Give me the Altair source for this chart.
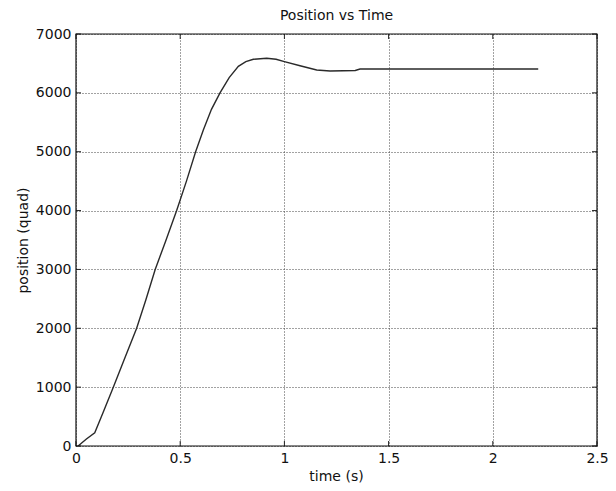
import altair as alt
import pandas as pd

# Data
time_s = [0.01, 0.05, 0.09, 0.13, 0.179, 0.23, 0.291, 0.335, 0.38, 0.43, 0.483,
          0.53, 0.574, 0.611, 0.65, 0.691, 0.735, 0.779, 0.815, 0.851, 0.915,
          0.96, 1.0, 1.075, 1.155, 1.219, 1.283, 1.34, 1.363, 1.6, 1.8, 2.0, 2.218]
position = [0, 120, 225, 570, 1000, 1455, 2000, 2480, 3000, 3480, 4000,
            4500, 5000, 5370, 5720, 6000, 6260, 6450, 6530, 6570, 6587,
            6570, 6530, 6460, 6388, 6371, 6375, 6380, 6405, 6405, 6405, 6405, 6405]

x_ticks = [0, 0.5, 1, 1.5, 2, 2.5]
y_ticks = [0, 1000, 2000, 3000, 4000, 5000, 6000, 7000]

W, H = 521, 412
FONT = "DejaVu Sans"
FS = 14

df = pd.DataFrame({"t": time_s, "p": position})
dfx = pd.DataFrame({"t": x_ticks})
dfy = pd.DataFrame({"p": y_ticks})

xscale = alt.Scale(domain=[0, 2.5], nice=False, zero=False)
yscale = alt.Scale(domain=[0, 7000], nice=False, zero=False)

xaxis = alt.Axis(values=x_ticks, title="time (s)", grid=True,
                 gridDash=[1, 2], gridColor="#444", gridWidth=1,
                 tickSize=0, domain=False, labelPadding=5, format="~g",
                 labelFlush=False,
                 titleX=260, titleY=30, titleBaseline="middle",
                 titleAlign="center")
yaxis = alt.Axis(values=y_ticks, title="position (quad)", grid=True,
                 gridDash=[1, 2], gridColor="#444", gridWidth=1,
                 tickSize=0, domain=False, labelPadding=5, format="d",
                 labelFlush=False,
                 titleX=-53, titleY=206, titleBaseline="middle",
                 titleAlign="center", titleAngle=270)

line = alt.Chart(df).mark_line(color="#2a2a2a", strokeWidth=1.4).encode(
    x=alt.X("t:Q", scale=xscale, axis=xaxis),
    y=alt.Y("p:Q", scale=yscale, axis=yaxis),
)

tick_len = 5
bottom_ticks = alt.Chart(dfx).mark_rule(color="#222").encode(
    x=alt.X("t:Q", scale=xscale, axis=xaxis),
    y=alt.value(H), y2=alt.value(H - tick_len))
top_ticks = alt.Chart(dfx).mark_rule(color="#222").encode(
    x=alt.X("t:Q", scale=xscale, axis=xaxis),
    y=alt.value(0), y2=alt.value(tick_len))
left_ticks = alt.Chart(dfy).mark_rule(color="#222").encode(
    y=alt.Y("p:Q", scale=yscale, axis=yaxis),
    x=alt.value(0), x2=alt.value(tick_len))
right_ticks = alt.Chart(dfy).mark_rule(color="#222").encode(
    y=alt.Y("p:Q", scale=yscale, axis=yaxis),
    x=alt.value(W), x2=alt.value(W - tick_len))

border = alt.Chart(pd.DataFrame({"k": [0]})).mark_rect(
    fill=None, stroke="#111", strokeWidth=1.2).encode(
    x=alt.value(0), x2=alt.value(W), y=alt.value(0), y2=alt.value(H))

chart = alt.layer(line, bottom_ticks, top_ticks, left_ticks, right_ticks, border).properties(
    width=W, height=H,
    title=alt.TitleParams("Position vs Time", fontSize=FS, fontWeight="normal",
                          font=FONT, color="#111", offset=4, anchor="middle"),
    autosize=alt.AutoSizeParams(type="none"),
    padding={"left": 68, "top": 26, "right": 11, "bottom": 37},
    background="white",
).configure_view(
    stroke=None
).configure_axis(
    labelFont=FONT, labelFontSize=FS, labelColor="#111",
    titleFont=FONT, titleFontSize=FS, titleFontWeight="normal", titleColor="#111",
)

chart.save("out.html", embed_options={"renderer": "svg", "actions": False})
